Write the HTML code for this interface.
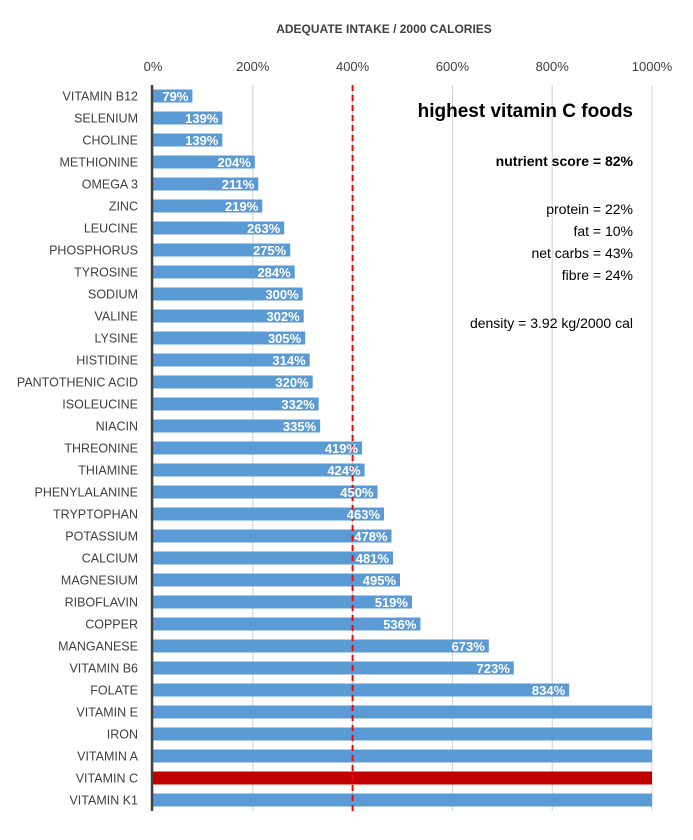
<!DOCTYPE html>
<html><head><meta charset="utf-8"><style>
body{margin:0;background:#fff;width:693px;height:835px;overflow:hidden;font-family:"Liberation Sans",Arial,sans-serif}
svg text{font-family:"Liberation Sans",Arial,sans-serif}
</style></head><body>
<svg id="chart" width="693" height="835">
<text x="384" y="33" text-anchor="middle" font-size="12" font-weight="bold" fill="#404040">ADEQUATE INTAKE / 2000 CALORIES</text>
<g id="grid"></g><g id="bars"></g><g id="labels"></g>
<text x="633" y="117" text-anchor="end" font-size="19" font-weight="bold" fill="#000">highest vitamin C foods</text>
<text x="633" y="166" text-anchor="end" font-size="14" font-weight="bold" fill="#000">nutrient score = 82%</text>
<g font-size="14" fill="#000" text-anchor="end">
<text x="633" y="214">protein = 22%</text>
<text x="633" y="236">fat = 10%</text>
<text x="633" y="258">net carbs = 43%</text>
<text x="633" y="280">fibre = 24%</text>
<text x="633" y="328">density = 3.92 kg/2000 cal</text>
</g>
</svg>
<script>
const categories=["VITAMIN B12","SELENIUM","CHOLINE","METHIONINE","OMEGA 3","ZINC","LEUCINE","PHOSPHORUS","TYROSINE","SODIUM","VALINE","LYSINE","HISTIDINE","PANTOTHENIC ACID","ISOLEUCINE","NIACIN","THREONINE","THIAMINE","PHENYLALANINE","TRYPTOPHAN","POTASSIUM","CALCIUM","MAGNESIUM","RIBOFLAVIN","COPPER","MANGANESE","VITAMIN B6","FOLATE","VITAMIN E","IRON","VITAMIN A","VITAMIN C","VITAMIN K1"];
const values=[79,139,139,204,211,219,263,275,284,300,302,305,314,320,332,335,419,424,450,463,478,481,495,519,536,673,723,834,1000,1000,1000,1000,1000];
const showLabel=[1,1,1,1,1,1,1,1,1,1,1,1,1,1,1,1,1,1,1,1,1,1,1,1,1,1,1,1,0,0,0,0,0];
const highlight="VITAMIN C";
const ticks=[0,200,400,600,800,1000];
const reference=400;
const NS="http://www.w3.org/2000/svg";
const x0=153,x1=652,yTop=85,pitch=22;
const xs=v=>x0+(Math.min(v,1000)/1000)*(x1-x0);
const yc=i=>yTop+11+i*pitch;
function mk(t,a,p){const e=document.createElementNS(NS,t);for(const k in a)e.setAttribute(k,a[k]);p.appendChild(e);return e;}
const grid=document.getElementById('grid'),bars=document.getElementById('bars'),labels=document.getElementById('labels');
const yBot=yTop+categories.length*pitch;
ticks.forEach(t=>{
  const l=mk('line',{x1:xs(t),x2:xs(t),y1:yTop,y2:yBot,stroke:'#d0d0d0','stroke-width':1},grid);
  
  
  const tx=mk('text',{x:xs(t),y:71,'text-anchor':'middle','font-size':13,fill:'#404040'},grid);
  tx.textContent=t+'%';
  
  
});
categories.forEach((c,i)=>{
  const y=yc(i);
  const r=mk('rect',{x:x0,y:y-6.5,width:xs(values[i])-x0,height:13,fill:c===highlight?'#c00000':'#5b9bd5'},bars);
  
  
  const t=mk('text',{x:138,y:y+4.5,'text-anchor':'end','font-size':12.5,fill:'#404040'},labels);
  t.textContent=c;
  
  
  if(showLabel[i]){
    const v=mk('text',{x:xs(values[i])-4,y:y+5,'text-anchor':'end','font-size':13,'font-weight':'bold',fill:'#fff'},labels);
    v.textContent=values[i]+'%';
    
    
  }
});
const ax=mk('line',{x1:x0-1,x2:x0-1,y1:yTop,y2:yBot,stroke:'#404040','stroke-width':2.5},bars);


const ref=mk('line',{x1:xs(reference),x2:xs(reference),y1:yTop,y2:yBot,stroke:'#ff0000','stroke-width':2,'stroke-dasharray':'6,4'},bars);


</script>
</body></html>
